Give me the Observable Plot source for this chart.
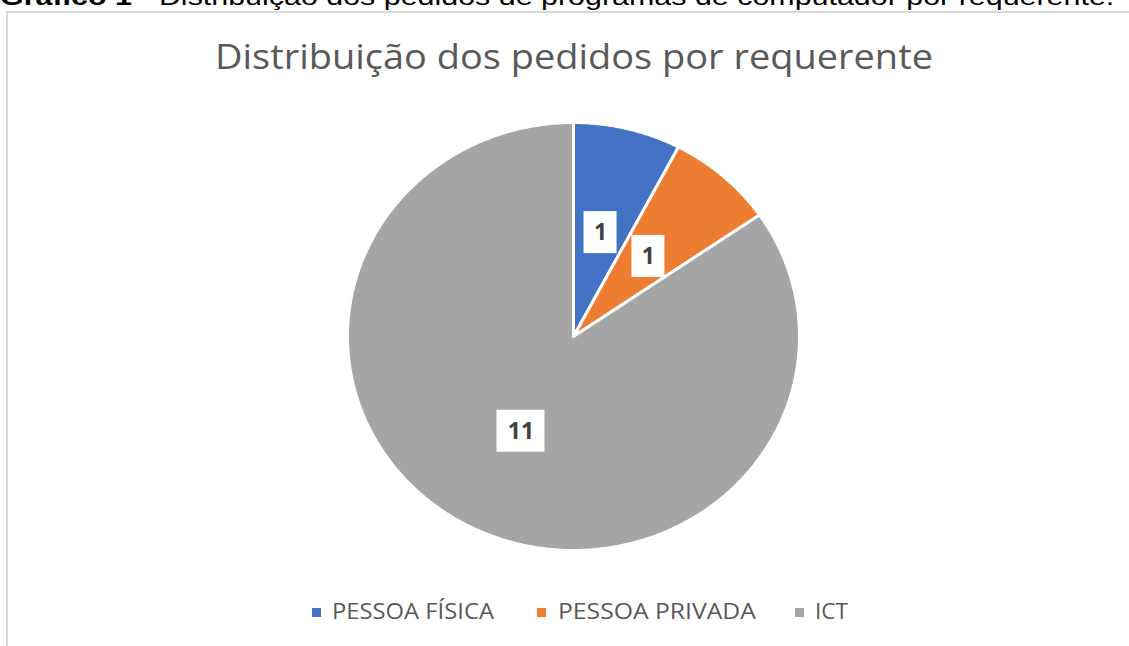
<!DOCTYPE html>
<html><head><meta charset="utf-8">
<script src="https://cdn.jsdelivr.net/npm/d3@7"></script>
<script src="https://cdn.jsdelivr.net/npm/@observablehq/plot@0.6"></script>
<style>
body{margin:0;background:#fff;}
#wrap{position:relative;width:1129px;height:646px;overflow:hidden;background:#fff;}
#frame{position:absolute;left:6px;top:11px;width:1140px;height:660px;border:2px solid #d9d9d9;box-sizing:border-box;}
#chart{position:absolute;left:0;top:0;}
#overlay{position:absolute;left:0;top:0;}
</style></head><body>
<div id="wrap"><div id="frame"></div><div id="chart"></div><svg id="overlay" width="1129" height="646"></svg></div>
<script>
// ---- data ----
const categories = ["PESSOA FÍSICA", "PESSOA PRIVADA", "ICT"];
const values = [1, 1, 11];
const colors = ["#4472c4", "#ed7d31", "#a5a5a5"];
const chartTitle = "Distribuição dos pedidos por requerente";
const captionBold = "Gráfico 1";
const captionRest = " - Distribuição dos pedidos de programas de computador por requerente.";

// ---- build pie geometry (unit ellipse, scaled by Plot's x/y scales) ----
const arcs = d3.pie().sort(null).startAngle(0).endAngle(2 * Math.PI)(values);
const slices = arcs.map((a, i) => {
  const pts = [{x: 0, y: 0}];
  const n = Math.max(2, Math.ceil((a.endAngle - a.startAngle) / 0.01));
  for (let k = 0; k <= n; k++) {
    const t = a.startAngle + (a.endAngle - a.startAngle) * k / n;
    pts.push({x: Math.sin(t), y: Math.cos(t)});
  }
  pts.push({x: 0, y: 0});
  return {cat: categories[i], color: colors[i], pts};
});
const labelData = arcs.map((a, i) => {
  const m = (a.startAngle + a.endAngle) / 2;
  return {x: 0.5 * Math.sin(m), y: 0.5 * Math.cos(m), text: String(values[i])};
});

const marks = [];
slices.forEach(s => {
  marks.push(Plot.line(s.pts, {x: "x", y: "y", fill: s.color, stroke: "white", strokeWidth: 3, strokeLinejoin: "round", curve: "linear"}));
});
labelData.forEach(d => {
  const hw = 9 + 7.5 * d.text.length;
  marks.push(Plot.rect([d], {x1: "x", x2: "x", y1: "y", y2: "y", fill: "white",
    insetLeft: -hw, insetRight: -hw, insetTop: -21, insetBottom: -21}));
});
marks.push(Plot.text(labelData, {x: "x", y: "y", text: "text", fontSize: 23, fontWeight: "bold",
  fill: "#404040", fontFamily: "Open Sans"}));

const chart = Plot.plot({
  width: 1129, height: 646, margin: 0,
  x: {domain: [-1, 1], range: [347, 799], axis: null},
  y: {domain: [-1, 1], range: [550, 122], axis: null},
  style: {background: "transparent"},
  marks
});
document.getElementById("chart").appendChild(chart);

// ---- overlay texts: caption, title, legend ----
const ov = d3.select("#overlay");
function fitText(sel, x, y, targetW) {
  const w = sel.node().getComputedTextLength();
  sel.attr("transform", `translate(${x},${y}) scale(${targetW / w},1)`);
}
const cap = ov.append("text").attr("font-family", "Liberation Sans, Arial, sans-serif")
  .attr("font-size", 24).attr("fill", "#000");
cap.append("tspan").attr("font-weight", "bold").text(captionBold);
cap.append("tspan").text(captionRest);
fitText(cap, 0, 5, 1115);

const tt = ov.append("text").attr("font-family", "Open Sans").attr("font-size", 35)
  .attr("fill", "#595959").text(chartTitle);
fitText(tt, 215, 69, 718);

const legendLayout = [{sx: 312, tx: 332, tw: 162}, {sx: 537, tx: 558, tw: 198}, {sx: 795, tx: 815, tw: 33}];
categories.forEach((c, i) => {
  const L = legendLayout[i];
  ov.append("rect").attr("x", L.sx).attr("y", 608).attr("width", 9).attr("height", 9).attr("fill", colors[i]);
  const t = ov.append("text").attr("font-family", "Open Sans").attr("font-size", 22)
    .attr("fill", "#595959").text(c);
  fitText(t, L.tx, 619, L.tw);
});
</script>
</body></html>
